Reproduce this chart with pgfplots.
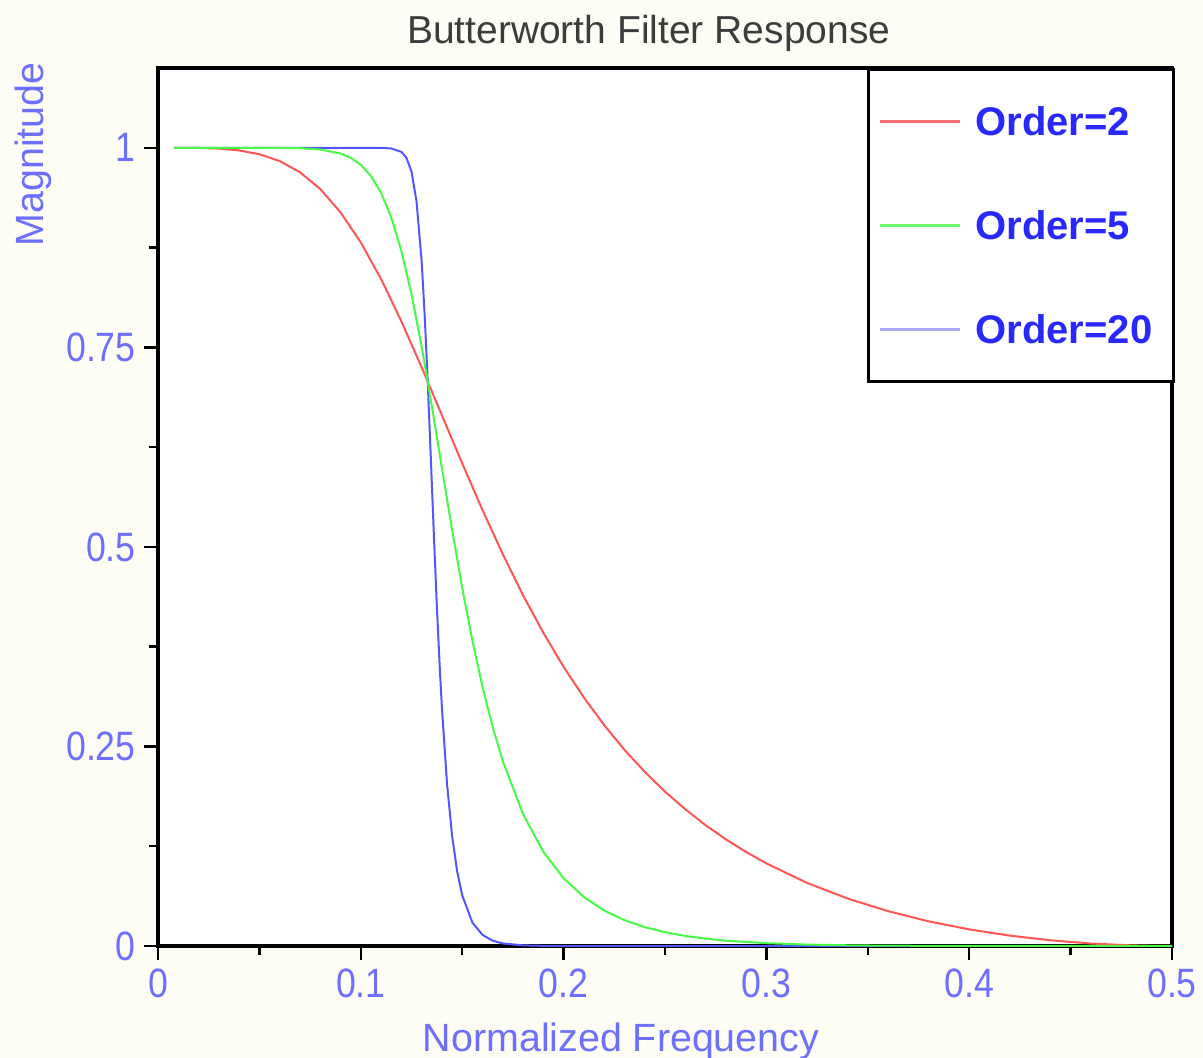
\documentclass[border=0pt]{standalone}
\usepackage{fontspec}
\setmainfont{Liberation Sans}
\newfontfamily\tickfont{Liberation Sans}[FakeStretch=0.87]
\usepackage{pgfplots}
\pgfplotsset{compat=1.18}
\definecolor{bgcream}{RGB}{253,253,245}
\definecolor{cred}{RGB}{255,85,85}
\definecolor{cgreen}{RGB}{70,250,70}
\definecolor{cblue}{RGB}{85,85,255}
\definecolor{lred}{RGB}{255,110,110}
\definecolor{lgreen}{RGB}{110,255,110}
\definecolor{lblue}{RGB}{170,170,255}
\definecolor{ticktxt}{RGB}{110,110,255}
\definecolor{legtxt}{RGB}{40,40,255}
\definecolor{titletxt}{RGB}{60,60,60}
\begin{document}
\begin{tikzpicture}
\fill[bgcream] (-79bp,-56bp) rectangle (522.5bp,473bp);
\begin{axis}[
  anchor=south west, at={(0,0)},
  scale only axis, width=507bp, height=439bp,
  xmin=0, xmax=0.5, ymin=0, ymax=1.1,
  axis background/.style={fill=white},
  axis line style={line width=1.6bp, black},
  tick pos=left, tick align=outside,
  major tick length=7bp, minor tick length=4.5bp,
  every tick/.style={black, line width=1.2bp},
  minor x tick num=1, minor y tick num=1,
  xtick={0,0.1,0.2,0.3,0.4,0.5}, xticklabels={0,0.1,0.2,0.3,0.4,0.5},
  ytick={0,0.25,0.5,0.75,1}, yticklabels={0,0.25,0.5,0.75,1},
  xticklabel style={anchor=north, inner sep=0pt, yshift=-4bp, font=\tickfont\fontsize{20.5bp}{24bp}\selectfont, text=ticktxt},
  yticklabel style={anchor=east, inner sep=0pt, xshift=-4bp, font=\tickfont\fontsize{20.5bp}{24bp}\selectfont, text=ticktxt},
  title={Butterworth Filter Response},
  title style={at={(rel axis cs:0.484,1)}, anchor=base, yshift=6.5bp, inner sep=0pt, font=\fontsize{19.5bp}{23bp}\selectfont, text=titletxt},
  xlabel={Normalized Frequency},
  xlabel style={at={(rel axis cs:0.4566,0)}, anchor=north, inner sep=0pt, yshift=-38.5bp, font=\fontsize{19.7bp}{23bp}\selectfont, text=ticktxt},
  ylabel={Magnitude},
  ylabel style={at={(rel axis cs:-0.1045,1.0068)}, anchor=south east, inner sep=0pt, font=\fontsize{19.7bp}{23bp}\selectfont, text=ticktxt},
  legend image code/.code={\draw[#1, line width=1.3bp] (0bp,0bp) -- (40bp,0bp);},
  legend style={at={(rel axis cs:1.003,1)}, anchor=north east, draw=black, line width=1.5bp, fill=white,
    inner xsep=5bp, inner ysep=0pt, row sep=0pt, column sep=7bp,
    font=\bfseries\fontsize{20bp}{24bp}\selectfont, text=legtxt,
    nodes={inner sep=0pt, text height=33bp, text depth=19bp, text width=94bp, align=left}},
  legend cell align=left,
]
\addlegendimage{color=lred}
\addlegendentry{Order=2}
\addlegendimage{color=lgreen}
\addlegendentry{Order=5}
\addlegendimage{color=lblue}
\addlegendentry{Order=20}

\addplot[forget plot, color=cred, line width=1bp] coordinates {
(0.008,1.0000) (0.02,0.9998) (0.03,0.9990) (0.04,0.9967) (0.05,0.9920) (0.06,0.9834) (0.07,0.9694) (0.08,0.9484) (0.09,0.9192) (0.10,0.8815) (0.11,0.8356) (0.12,0.7827) (0.13,0.7250) (0.133,0.7071) (0.14,0.6649) (0.15,0.6047) (0.16,0.5463) (0.17,0.4910) (0.18,0.4395) (0.19,0.3925) (0.20,0.3498) (0.21,0.3113) (0.22,0.2768) (0.23,0.2458) (0.24,0.2182) (0.25,0.1934) (0.26,0.1713) (0.27,0.1514) (0.28,0.1337) (0.29,0.1178) (0.30,0.1035) (0.32,0.0791) (0.34,0.0595) (0.36,0.0437) (0.38,0.0309) (0.40,0.0208) (0.42,0.0130) (0.44,0.0072) (0.46,0.0031) (0.48,0.0008) (0.49,0.0002) (0.50,0)
};
\addplot[forget plot, color=cblue, line width=1bp] coordinates {
(0.008,1) (0.10,1.0000) (0.11,0.9999) (0.115,0.9992) (0.12,0.9949) (0.1225,0.9875) (0.125,0.9703) (0.1275,0.9324) (0.13,0.8581) (0.1315,0.7905) (0.133,0.7071) (0.1345,0.6133) (0.136,0.5171) (0.1375,0.4261) (0.139,0.3454) (0.14,0.2983) (0.1425,0.2040) (0.145,0.1384) (0.1475,0.0937) (0.15,0.0635) (0.155,0.0295) (0.16,0.0139) (0.165,0.0067) (0.17,0.0032) (0.18,0.0008) (0.19,0.0002) (0.20,0) (0.50,0)
};
\addplot[forget plot, color=cgreen, line width=1bp] coordinates {
(0.008,1) (0.04,1.0000) (0.05,1.0000) (0.06,0.9999) (0.07,0.9995) (0.08,0.9979) (0.09,0.9929) (0.095,0.9875) (0.10,0.9787) (0.105,0.9648) (0.11,0.9437) (0.115,0.9131) (0.12,0.8710) (0.125,0.8166) (0.13,0.7509) (0.133,0.7071) (0.135,0.6767) (0.14,0.5988) (0.145,0.5216) (0.15,0.4489) (0.155,0.3830) (0.16,0.3249) (0.165,0.2747) (0.17,0.2319) (0.18,0.1652) (0.19,0.1181) (0.20,0.0849) (0.21,0.0613) (0.22,0.0445) (0.23,0.0324) (0.24,0.0236) (0.25,0.0173) (0.26,0.0126) (0.27,0.0092) (0.28,0.0067) (0.30,0.0035) (0.32,0.0018) (0.34,0.0009) (0.36,0.0004) (0.40,0.0001) (0.50,0)
};
\end{axis}
\pgfresetboundingbox
\path (-79bp,-56bp) rectangle (522.5bp,473bp);
\end{tikzpicture}
\end{document}
